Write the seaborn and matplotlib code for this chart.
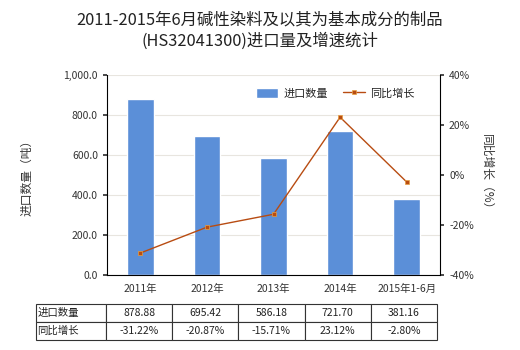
import matplotlib
matplotlib.use("Agg")
import matplotlib.pyplot as plt
import matplotlib.ticker as mticker
import seaborn as sns
import pandas as pd

categories = ["2011年", "2012年", "2013年", "2014年", "2015年1-6月"]
import_qty = [878.88, 695.42, 586.18, 721.70, 381.16]
growth = [-31.22, -20.87, -15.71, 23.12, -2.80]
qty_labels = ["878.88", "695.42", "586.18", "721.70", "381.16"]
growth_labels = ["-31.22%", "-20.87%", "-15.71%", "23.12%", "-2.80%"]

sns.set_theme(style="white")
plt.rcParams['font.family'] = ['Noto Sans CJK SC', 'DejaVu Sans']
plt.rcParams['axes.unicode_minus'] = False

bar_color = "#5b8fd8"
line_color = "#b84c12"

fig = plt.figure(figsize=(5.2, 3.5), dpi=100)
ax = fig.add_axes([107/520, 1-275/350, (440-107)/520, 200/350])

df = pd.DataFrame({"cat": categories, "qty": import_qty, "g": growth})
sns.barplot(data=df, x="cat", y="qty", color=bar_color, width=0.4, ax=ax,
            saturation=1, label="进口数量")
ax.set_ylim(0, 1000)
ax.set_yticks([0, 200, 400, 600, 800, 1000])
ax.yaxis.set_major_formatter(mticker.FuncFormatter(lambda v, p: f"{v:,.1f}"))
ax.yaxis.grid(True, color="#e8e5df", linewidth=0.8)
ax.set_axisbelow(True)
ax.set_xlabel("")
ax.set_ylabel("进口数量（吨）", fontsize=8.5, color="#333333", labelpad=22)
ax.tick_params(axis="both", labelsize=7.5, colors="#333333", length=3, direction="out")
for s in ["top", "right"]:
    ax.spines[s].set_visible(False)
for s in ["left", "bottom"]:
    ax.spines[s].set_color("#000000")
    ax.spines[s].set_linewidth(0.8)
ax.set_xlim(-0.5, 4.5)

ax2 = ax.twinx()
sns.lineplot(x=list(range(len(categories))), y=growth, ax=ax2, color=line_color,
             marker="s", markersize=3.5, linewidth=1, label="同比增长",
             markeredgecolor="#e8a040", markeredgewidth=0.5)
ax2.set_ylim(-40, 40)
ax2.set_yticks([-40, -20, 0, 20, 40])
ax2.yaxis.set_major_formatter(mticker.FuncFormatter(lambda v, p: f"{v:.0f}%"))
ax2.set_ylabel("同比增长（%）", fontsize=8.5, color="#333333", rotation=270, labelpad=14)
ax2.tick_params(axis="y", labelsize=7.5, colors="#333333", length=3, direction="out")
for s in ["top", "left", "bottom"]:
    ax2.spines[s].set_visible(False)
ax2.spines["right"].set_color("#000000")
ax2.spines["right"].set_linewidth(0.8)
if ax2.get_legend():
    ax2.get_legend().remove()

h1, l1 = ax.get_legend_handles_labels()
h2, l2 = ax2.get_legend_handles_labels()
ax.legend(h1 + h2, l1 + l2, loc="upper right", bbox_to_anchor=(0.955, 0.985), ncol=2,
          frameon=False, fontsize=8, handlelength=2.0, handleheight=1.0,
          columnspacing=1.3, handletextpad=0.5)

fig.text(0.5, 1 - 12/350, "2011-2015年6月碱性染料及以其为基本成分的制品\n(HS32041300)进口量及增速统计",
         fontsize=11.8, color="#222222", ha="center", va="top", linespacing=1.25)

cell_text = [["进口数量"] + qty_labels, ["同比增长"] + growth_labels]
tab = plt.table(cellText=cell_text, cellLoc="center",
                colWidths=[70/401] + [66.2/401]*5,
                bbox=[36/520, 10/350, 401/520, 36/350],
                transform=fig.transFigure)
tab.auto_set_font_size(False)
tab.set_fontsize(7.5)
for (r, c), cell in tab.get_celld().items():
    cell.set_edgecolor("#333333")
    cell.set_linewidth(0.8)
    cell.get_text().set_color("#222222")
    if c == 0:
        cell.get_text().set_ha("left")
        cell._loc = "left"
        cell.PAD = 0.02

fig.savefig("out.png", dpi=100)
